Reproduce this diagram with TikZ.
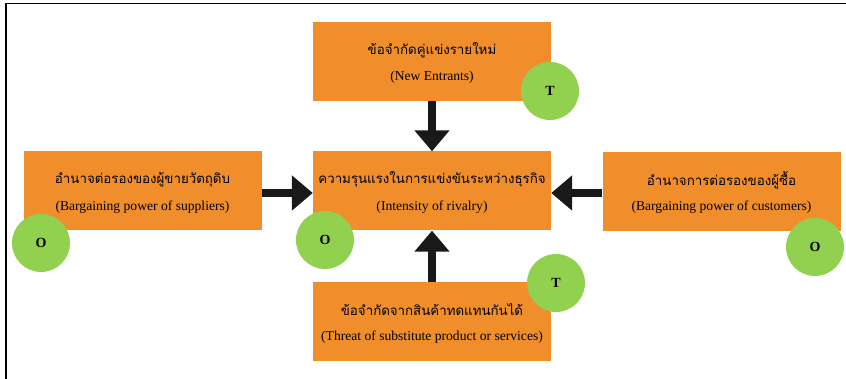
\documentclass[tikz,border=0pt]{standalone}
\usepackage{fontspec}
\setmainfont{Liberation Serif}
\newfontfamily\thaifont[Script=Thai]{Loma}
\usetikzlibrary{arrows.meta,calc}
\definecolor{boxorange}{RGB}{241,142,44}
\definecolor{circgreen}{RGB}{146,208,80}
\tikzset{
  forcebox/.style={fill=boxorange, draw=none, minimum width=238pt, minimum height=79pt, inner sep=0pt},
  thline/.style={inner sep=0pt, font=\thaifont\fontsize{13.3}{16}\selectfont},
  enline/.style={inner sep=0pt, font=\fontsize{13.6}{16}\selectfont},
  swot/.style={circle, fill=circgreen, draw=none, minimum size=58pt, inner sep=0pt, font=\fontsize{14}{14}\selectfont\bfseries},
  bigarrow/.style={line width=8pt, -{Triangle[width=34pt,length=21pt]}, black!90}
}
\newcommand{\forcenode}[4]{%
  \node[forcebox] (#1) at (#2) {};
  \node[thline] (#1th) at ($(#1.north)+(0,28)$) {#3};
  \node[enline] (#1en) at ($(#1.north)+(0,55.5)$) {#4};
}
\begin{document}
\begin{tikzpicture}[x=1pt,y=-1pt]
\useasboundingbox (0,0) rectangle (846,379);
\fill[white] (0,0) rectangle (846,379);
\coordinate (fa) at (846,3.5);
\coordinate (fb) at (6,3.5);
\coordinate (fc) at (6,379);
\draw[line width=1.6pt] (fa) -- (fb) -- (fc);

\forcenode{top}{432,61.5}{ข้อจำกัดคู่แข่งรายใหม่}{(New Entrants)}
\forcenode{left}{142.5,191}{อำนาจต่อรองของผู้ขายวัตถุดิบ}{(Bargaining power of suppliers)}
\forcenode{mid}{432,191}{ความรุนแรงในการแข่งขันระหว่างธุรกิจ}{(Intensity of rivalry)}
\forcenode{right}{721.5,191.5}{อำนาจการต่อรองของผู้ซื้อ}{(Bargaining power of customers)}
\forcenode{bot}{432,321.5}{ข้อจำกัดจากสินค้าทดแทนกันได้}{(Threat of substitute product or services)}

\draw[bigarrow] (top.south) -- (mid.north);
\draw[bigarrow] (bot.north) -- (mid.south);
\draw[bigarrow] (left.east |- 0,193) -- (mid.west |- 0,193);
\draw[bigarrow] (right.west |- 0,193) -- (mid.east |- 0,193);

\node[swot] (ct1) at (550,91) {T};
\node[swot] (co1) at (41,243) {O};
\node[swot] (co2) at (325,240) {O};
\node[swot] (co3) at (815,247) {O};
\node[swot] (ct2) at (556,283) {T};
\end{tikzpicture}
\end{document}
